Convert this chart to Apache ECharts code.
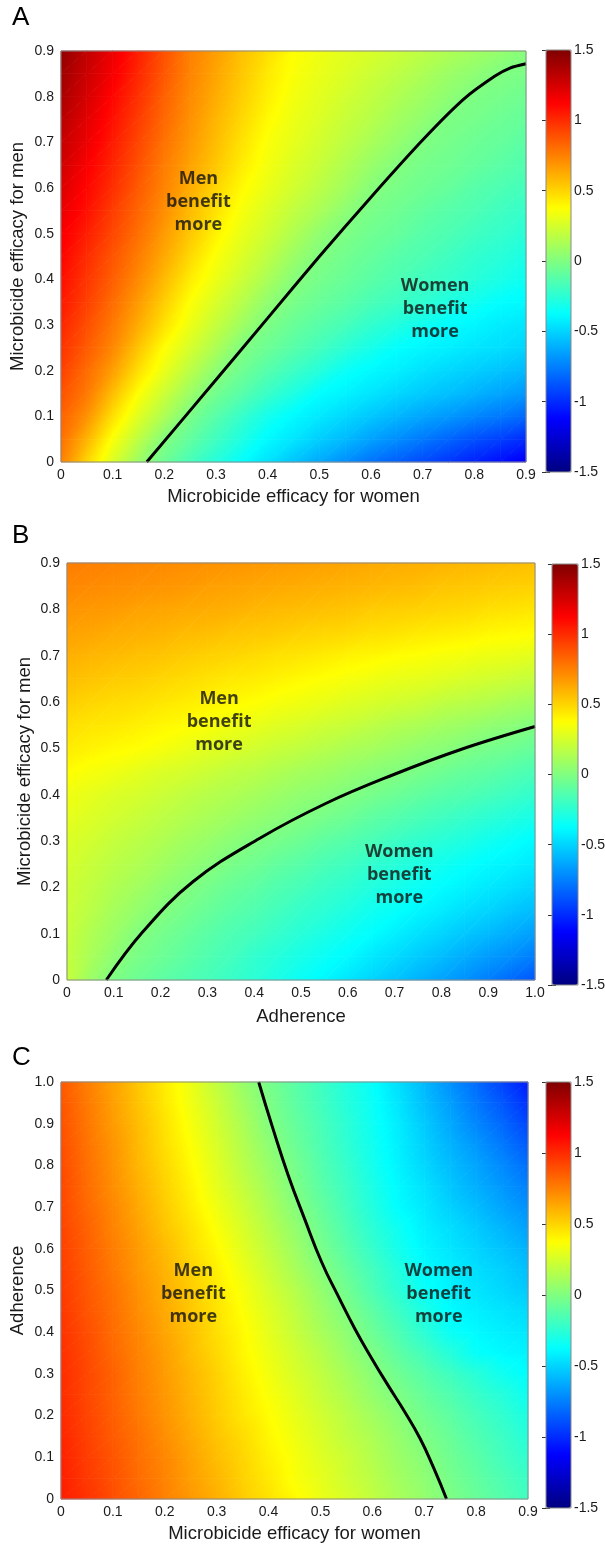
<!DOCTYPE html>
<html>
<head>
<meta charset="utf-8">
<script src="https://cdn.jsdelivr.net/npm/echarts/dist/echarts.min.js"></script>
<style>
html, body { margin: 0; padding: 0; background: #fff; }
#container { width: 605px; height: 1544px; }
</style>
</head>
<body>
<div id="container"></div>
<script>
// sample positions of the value grids (read every 0.05)
const nodes09 = [0, 0.05, 0.1, 0.15, 0.2, 0.25, 0.3, 0.35, 0.4, 0.45, 0.5, 0.55, 0.6, 0.65, 0.7, 0.75, 0.8, 0.85, 0.9];
const nodes10 = [0, 0.05, 0.1, 0.15, 0.2, 0.25, 0.3, 0.35, 0.4, 0.45, 0.5, 0.55, 0.6, 0.65, 0.7, 0.75, 0.8, 0.85, 0.9, 0.95, 1];

// panel A: rows = men efficacy 0..0.9, columns = women efficacy 0..0.9
const gridA = [
  [0.75,0.50,0.27,0.08,-0.06,-0.17,-0.27,-0.37,-0.46,-0.55,-0.63,-0.71,-0.79,-0.85,-0.91,-0.97,-1.03,-1.09,-1.15],
  [0.80,0.60,0.36,0.18,0.01,-0.09,-0.19,-0.29,-0.39,-0.45,-0.52,-0.58,-0.65,-0.71,-0.77,-0.83,-0.89,-0.94,-1.00],
  [0.84,0.70,0.47,0.28,0.13,-0.02,-0.12,-0.22,-0.32,-0.39,-0.44,-0.49,-0.54,-0.59,-0.64,-0.68,-0.73,-0.77,-0.82],
  [0.89,0.77,0.57,0.37,0.22,0.08,-0.04,-0.12,-0.21,-0.29,-0.375,-0.41,-0.45,-0.49,-0.53,-0.56,-0.60,-0.64,-0.68],
  [0.94,0.81,0.66,0.47,0.31,0.17,0.04,-0.05,-0.13,-0.20,-0.27,-0.35,-0.39,-0.42,-0.46,-0.49,-0.52,-0.55,-0.58],
  [0.98,0.86,0.73,0.55,0.375,0.25,0.13,0.00,-0.06,-0.12,-0.18,-0.25,-0.31,-0.37,-0.40,-0.42,-0.45,-0.47,-0.50],
  [1.02,0.90,0.77,0.62,0.46,0.32,0.20,0.09,-0.01,-0.07,-0.12,-0.17,-0.23,-0.28,-0.33,-0.38,-0.40,-0.43,-0.45],
  [1.06,0.94,0.81,0.67,0.52,0.37,0.26,0.16,0.05,-0.02,-0.07,-0.11,-0.16,-0.20,-0.24,-0.29,-0.33,-0.375,-0.39],
  [1.09,0.97,0.85,0.72,0.58,0.43,0.32,0.22,0.12,0.02,-0.03,-0.07,-0.11,-0.15,-0.19,-0.22,-0.26,-0.30,-0.34],
  [1.12,1.00,0.88,0.76,0.63,0.49,0.36,0.27,0.18,0.08,0.00,-0.04,-0.08,-0.12,-0.15,-0.19,-0.23,-0.26,-0.30],
  [1.15,1.04,0.92,0.80,0.67,0.54,0.41,0.31,0.23,0.14,0.05,-0.01,-0.05,-0.08,-0.12,-0.15,-0.19,-0.22,-0.26],
  [1.19,1.08,0.95,0.83,0.71,0.58,0.46,0.35,0.27,0.19,0.12,0.04,-0.02,-0.05,-0.09,-0.12,-0.15,-0.19,-0.22],
  [1.23,1.11,0.99,0.86,0.74,0.62,0.50,0.39,0.31,0.24,0.17,0.10,0.02,-0.02,-0.05,-0.08,-0.12,-0.15,-0.18],
  [1.27,1.14,1.02,0.89,0.76,0.65,0.54,0.43,0.34,0.27,0.21,0.14,0.07,0.01,-0.03,-0.05,-0.08,-0.11,-0.14],
  [1.30,1.18,1.05,0.92,0.79,0.68,0.57,0.46,0.36,0.30,0.24,0.18,0.12,0.06,0.00,-0.03,-0.06,-0.08,-0.11],
  [1.34,1.21,1.08,0.95,0.82,0.70,0.59,0.49,0.39,0.32,0.27,0.21,0.16,0.10,0.05,-0.01,-0.03,-0.06,-0.08],
  [1.38,1.25,1.11,0.98,0.84,0.72,0.62,0.52,0.42,0.34,0.29,0.24,0.19,0.14,0.09,0.04,-0.01,-0.03,-0.05],
  [1.41,1.28,1.15,1.01,0.87,0.74,0.64,0.54,0.44,0.36,0.31,0.27,0.22,0.18,0.13,0.08,0.04,0.00,-0.02],
  [1.45,1.31,1.18,1.04,0.89,0.75,0.66,0.56,0.47,0.375,0.33,0.29,0.26,0.22,0.18,0.14,0.10,0.06,0.02]
];

// panel B: rows = men efficacy 0..0.9, columns = adherence 0..1
const gridB = [
  [0.20,0.08,-0.01,-0.06,-0.10,-0.135,-0.17,-0.21,-0.25,-0.30,-0.35,-0.40,-0.45,-0.50,-0.55,-0.60,-0.65,-0.70,-0.76,-0.82,-0.88],
  [0.20,0.12,0.04,-0.02,-0.06,-0.10,-0.14,-0.18,-0.23,-0.27,-0.31,-0.35,-0.39,-0.44,-0.48,-0.53,-0.57,-0.62,-0.67,-0.71,-0.76],
  [0.21,0.14,0.08,0.01,-0.03,-0.07,-0.11,-0.15,-0.18,-0.22,-0.26,-0.30,-0.34,-0.375,-0.42,-0.46,-0.50,-0.54,-0.58,-0.62,-0.66],
  [0.22,0.17,0.11,0.06,0.01,-0.03,-0.07,-0.11,-0.14,-0.18,-0.22,-0.25,-0.29,-0.33,-0.36,-0.40,-0.43,-0.47,-0.50,-0.54,-0.57],
  [0.23,0.19,0.14,0.10,0.05,0.01,-0.03,-0.07,-0.10,-0.14,-0.17,-0.21,-0.24,-0.28,-0.31,-0.35,-0.38,-0.41,-0.44,-0.47,-0.50],
  [0.25,0.21,0.17,0.14,0.10,0.06,0.02,-0.02,-0.05,-0.09,-0.12,-0.16,-0.19,-0.23,-0.26,-0.29,-0.33,-0.36,-0.39,-0.41,-0.44],
  [0.27,0.24,0.20,0.17,0.14,0.10,0.07,0.03,0.00,-0.03,-0.06,-0.10,-0.13,-0.16,-0.20,-0.23,-0.26,-0.29,-0.33,-0.36,-0.39],
  [0.30,0.27,0.24,0.21,0.18,0.15,0.12,0.09,0.06,0.03,0.00,-0.03,-0.06,-0.10,-0.13,-0.16,-0.19,-0.22,-0.25,-0.28,-0.31],
  [0.33,0.30,0.27,0.25,0.22,0.19,0.16,0.14,0.11,0.08,0.05,0.03,0.00,-0.03,-0.06,-0.09,-0.12,-0.14,-0.17,-0.20,-0.23],
  [0.38,0.35,0.33,0.30,0.27,0.25,0.22,0.19,0.17,0.14,0.11,0.09,0.06,0.03,0.01,-0.02,-0.05,-0.08,-0.10,-0.13,-0.16],
  [0.43,0.41,0.39,0.375,0.35,0.32,0.29,0.27,0.24,0.21,0.19,0.16,0.13,0.11,0.08,0.05,0.03,0.00,-0.03,-0.05,-0.08],
  [0.47,0.45,0.44,0.42,0.40,0.38,0.36,0.33,0.31,0.28,0.26,0.23,0.21,0.18,0.15,0.13,0.10,0.08,0.05,0.03,0.00],
  [0.52,0.50,0.48,0.47,0.45,0.43,0.41,0.39,0.375,0.35,0.33,0.31,0.28,0.26,0.24,0.22,0.19,0.17,0.15,0.12,0.10],
  [0.57,0.55,0.53,0.52,0.50,0.48,0.46,0.44,0.43,0.41,0.39,0.37,0.35,0.33,0.31,0.30,0.28,0.26,0.24,0.22,0.20],
  [0.61,0.59,0.58,0.56,0.55,0.53,0.51,0.50,0.48,0.46,0.45,0.43,0.41,0.40,0.38,0.37,0.35,0.34,0.32,0.31,0.29],
  [0.65,0.64,0.62,0.61,0.60,0.58,0.57,0.55,0.54,0.53,0.51,0.50,0.49,0.47,0.46,0.44,0.43,0.42,0.40,0.39,0.38],
  [0.69,0.68,0.67,0.65,0.64,0.63,0.62,0.61,0.59,0.58,0.57,0.56,0.55,0.53,0.52,0.51,0.50,0.49,0.47,0.46,0.45],
  [0.73,0.72,0.71,0.70,0.69,0.68,0.66,0.65,0.64,0.63,0.62,0.61,0.60,0.59,0.58,0.57,0.55,0.54,0.53,0.52,0.51],
  [0.76,0.75,0.74,0.73,0.72,0.71,0.70,0.69,0.68,0.67,0.66,0.65,0.64,0.63,0.62,0.61,0.60,0.59,0.58,0.57,0.56]
];

// panel C: rows = adherence 0..1, columns = women efficacy 0..0.9
const gridC = [
  [1.05,0.98,0.90,0.83,0.75,0.68,0.61,0.53,0.46,0.39,0.32,0.26,0.19,0.12,0.06,-0.01,-0.07,-0.13,-0.19],
  [1.04,0.96,0.89,0.81,0.74,0.66,0.59,0.51,0.44,0.36,0.30,0.23,0.17,0.10,0.04,-0.03,-0.09,-0.15,-0.21],
  [1.03,0.95,0.88,0.80,0.73,0.65,0.57,0.50,0.42,0.35,0.28,0.22,0.15,0.08,0.02,-0.05,-0.11,-0.18,-0.24],
  [1.02,0.94,0.86,0.79,0.71,0.63,0.55,0.48,0.40,0.33,0.26,0.19,0.13,0.06,-0.01,-0.07,-0.14,-0.20,-0.27],
  [1.01,0.93,0.85,0.77,0.69,0.61,0.53,0.45,0.38,0.31,0.24,0.17,0.10,0.03,-0.04,-0.10,-0.17,-0.23,-0.30],
  [1.00,0.92,0.84,0.76,0.68,0.60,0.52,0.44,0.36,0.29,0.21,0.14,0.06,-0.01,-0.08,-0.14,-0.21,-0.27,-0.34],
  [1.00,0.92,0.84,0.75,0.67,0.59,0.51,0.42,0.34,0.26,0.19,0.11,0.03,-0.05,-0.12,-0.19,-0.26,-0.33,-0.38],
  [0.99,0.91,0.82,0.74,0.66,0.57,0.49,0.40,0.32,0.24,0.16,0.07,-0.01,-0.10,-0.18,-0.27,-0.36,-0.39,-0.41],
  [0.98,0.90,0.81,0.73,0.64,0.56,0.47,0.39,0.30,0.21,0.12,0.04,-0.06,-0.15,-0.25,-0.35,-0.39,-0.42,-0.44],
  [0.97,0.88,0.80,0.71,0.63,0.54,0.46,0.37,0.28,0.19,0.09,0.00,-0.10,-0.20,-0.30,-0.38,-0.42,-0.45,-0.48],
  [0.96,0.87,0.79,0.70,0.61,0.53,0.44,0.35,0.25,0.16,0.06,-0.04,-0.15,-0.25,-0.35,-0.41,-0.45,-0.49,-0.53],
  [0.95,0.86,0.77,0.68,0.60,0.51,0.42,0.32,0.22,0.12,0.02,-0.08,-0.18,-0.28,-0.38,-0.42,-0.47,-0.51,-0.56],
  [0.94,0.85,0.76,0.67,0.58,0.48,0.39,0.29,0.19,0.09,-0.02,-0.12,-0.22,-0.32,-0.40,-0.45,-0.50,-0.55,-0.60],
  [0.93,0.84,0.74,0.65,0.55,0.46,0.36,0.26,0.16,0.06,-0.05,-0.15,-0.25,-0.34,-0.42,-0.47,-0.53,-0.59,-0.65],
  [0.92,0.82,0.73,0.63,0.53,0.43,0.33,0.23,0.13,0.02,-0.08,-0.18,-0.28,-0.38,-0.44,-0.51,-0.57,-0.64,-0.70],
  [0.92,0.81,0.71,0.61,0.51,0.41,0.30,0.20,0.10,-0.01,-0.11,-0.20,-0.30,-0.39,-0.46,-0.54,-0.61,-0.68,-0.75],
  [0.91,0.80,0.70,0.59,0.49,0.39,0.28,0.17,0.07,-0.03,-0.13,-0.22,-0.32,-0.41,-0.49,-0.57,-0.64,-0.72,-0.80],
  [0.90,0.79,0.69,0.58,0.47,0.37,0.26,0.15,0.04,-0.06,-0.15,-0.24,-0.33,-0.42,-0.51,-0.60,-0.68,-0.77,-0.86],
  [0.89,0.78,0.67,0.57,0.46,0.35,0.24,0.13,0.01,-0.08,-0.16,-0.25,-0.34,-0.43,-0.53,-0.63,-0.73,-0.82,-0.92],
  [0.88,0.77,0.66,0.55,0.44,0.33,0.22,0.10,-0.01,-0.10,-0.18,-0.27,-0.35,-0.45,-0.56,-0.66,-0.77,-0.87,-0.98],
  [0.87,0.76,0.65,0.54,0.43,0.32,0.19,0.07,-0.03,-0.11,-0.19,-0.28,-0.36,-0.47,-0.58,-0.70,-0.81,-0.93,-1.05]
];

// zero contours
const contourA = [[0.166,0],[0.30,0.18],[0.40,0.315],[0.50,0.45],[0.60,0.58],[0.70,0.705],[0.78,0.795],[0.84,0.845],[0.87,0.863],[0.9,0.872]];
const contourB = [[0.084,0],[0.162,0.104],[0.269,0.212],[0.412,0.306],[0.555,0.382],[0.697,0.443],[0.84,0.497],[1.0,0.547]];
const contourC = [[0.381,1.0],[0.408,0.89],[0.438,0.776],[0.47,0.67],[0.502,0.569],[0.534,0.487],[0.566,0.409],[0.598,0.339],[0.630,0.273],[0.662,0.21],[0.692,0.145],[0.718,0.075],[0.743,0]];

// region labels
const labelsA = [{ name: 'Men\nbenefit\nmore', value: [0.266, 0.569] }, { name: 'Women\nbenefit\nmore', value: [0.724, 0.336] }];
const labelsB = [{ name: 'Men\nbenefit\nmore', value: [0.325, 0.558] }, { name: 'Women\nbenefit\nmore', value: [0.71, 0.227] }];
const labelsC = [{ name: 'Men\nbenefit\nmore', value: [0.255, 0.493] }, { name: 'Women\nbenefit\nmore', value: [0.728, 0.493] }];

const colorRange = [-1.5, 1.5];
const jet = ['#000080', '#0000ff', '#0080ff', '#00ffff', '#80ff80', '#ffff00', '#ff8000', '#ff0000', '#800000'];

let dom = document.getElementById('container');
let myChart = echarts.init(dom);

function toCells(xs, ys, rows) {
  let out = [];
  rows.forEach(function (row, j) {
    row.forEach(function (v, i) { out.push([xs[i], ys[j], v, i, j]); });
  });
  return out;
}

// same jet palette as the colour bar, through echarts' own colour lerp
function colorOf(v) {
  let t = (v - colorRange[0]) / (colorRange[1] - colorRange[0]);
  return echarts.color.lerp(Math.min(1, Math.max(0, t)), jet);
}

// one triangle of a cell, shaded smoothly between its corner values
function tri(p, q, r, vp, vq, vr) {
  let det = (q[0] - p[0]) * (r[1] - p[1]) - (r[0] - p[0]) * (q[1] - p[1]);
  let a = ((vq - vp) * (r[1] - p[1]) - (vr - vp) * (q[1] - p[1])) / det;
  let b = ((q[0] - p[0]) * (vr - vp) - (r[0] - p[0]) * (vq - vp)) / det;
  let g2 = a * a + b * b;
  let pts = [p, q, r], vals = [vp, vq, vr];
  let lo = 0;
  for (let k = 1; k < 3; k++) if (vals[k] < vals[lo]) lo = k;
  let vmin = Math.min(vp, vq, vr), vmax = Math.max(vp, vq, vr);
  let fill;
  if (vmax - vmin < 1e-6 || g2 < 1e-12) {
    fill = colorOf(vp);
  } else {
    let d = vmax - vmin, s = pts[lo];
    let e = [s[0] + a / g2 * d, s[1] + b / g2 * d];
    let stops = [{ offset: 0, color: colorOf(vmin) }];
    for (let k = 1; k < jet.length - 1; k++) {
      let w = colorRange[0] + k * (colorRange[1] - colorRange[0]) / (jet.length - 1);
      if (w > vmin && w < vmax) stops.push({ offset: (w - vmin) / d, color: colorOf(w) });
    }
    stops.push({ offset: 1, color: colorOf(vmax) });
    fill = new echarts.graphic.LinearGradient(s[0], s[1], e[0], e[1], stops, true);
  }
  return { type: 'polygon', shape: { points: pts }, style: { fill: fill, stroke: fill, lineWidth: 0.8 } };
}

function shadeRenderer(xs, ys, rows) {
  return function (params, api) {
    let i = api.value(3), j = api.value(4);
    if (i >= xs.length - 1 || j >= ys.length - 1) return;
    let p00 = api.coord([xs[i], ys[j]]), p10 = api.coord([xs[i + 1], ys[j]]);
    let p01 = api.coord([xs[i], ys[j + 1]]), p11 = api.coord([xs[i + 1], ys[j + 1]]);
    let v00 = api.value(2), v10 = rows[j][i + 1], v01 = rows[j + 1][i], v11 = rows[j + 1][i + 1];
    return { type: 'group', children: [tri(p00, p10, p11, v00, v10, v11), tri(p00, p11, p01, v00, v11, v01)] };
  };
}

const txt = '#1a1a1a';
const font = 'Liberation Sans, Arial, sans-serif';

function fmt(v) { return v === 0 ? '0' : v.toFixed(1); }

function plotAxis(gridIndex, max, name, gap, isY) {
  return {
    type: 'value', gridIndex: gridIndex, min: 0, max: max, interval: 0.1,
    name: name, nameLocation: 'middle', nameGap: gap, nameMoveOverlap: false,
    nameTextStyle: { fontSize: 18.5, color: txt, fontFamily: font },
    axisLine: { show: false }, axisTick: { show: false }, splitLine: { show: false },
    axisLabel: { fontSize: 14, color: txt, fontFamily: font, margin: isY ? 7 : 6, formatter: fmt }
  };
}

function barAxis(gridIndex, pos, labels) {
  return {
    type: 'value', gridIndex: gridIndex, position: pos,
    min: colorRange[0], max: colorRange[1], interval: 0.5,
    axisLine: { show: false }, splitLine: { show: false },
    axisTick: { show: true, inside: true, length: 4, lineStyle: { color: '#333', width: 1 } },
    axisLabel: { show: labels, fontSize: 14, color: txt, fontFamily: font, margin: 3 }
  };
}

function gridBox(l, t, w, h) {
  return { left: l, top: t, width: w, height: h, show: true, backgroundColor: 'transparent',
    borderColor: '#8a8a8a', borderWidth: 1, z: 10, containLabel: false, outerBoundsMode: 'none' };
}

function colorbar(series, l, t, w, h) {
  return { type: 'continuous', seriesIndex: series, dimension: 2, min: colorRange[0], max: colorRange[1],
    inRange: { color: jet }, calculable: false, hoverLink: false, text: null,
    left: l, top: t, itemWidth: w, itemHeight: h, padding: 0, orient: 'vertical' };
}

function regionLabels(xi, yi, data) {
  return {
    type: 'scatter', xAxisIndex: xi, yAxisIndex: yi, data: data, symbolSize: 0, silent: true, z: 6,
    label: { show: true, position: 'inside', formatter: '{b}', fontFamily: 'Open Sans', fontWeight: 'bold',
      fontSize: 18, lineHeight: 23, color: '#111', align: 'center', verticalAlign: 'middle' }
  };
}

function contour(xi, yi, pts, smooth) {
  return { type: 'line', xAxisIndex: xi, yAxisIndex: yi, data: pts, smooth: smooth,
    symbol: 'none', silent: true, lineStyle: { color: '#000', width: 3 }, z: 5 };
}

function heat(xi, yi, xs, ys, rows) {
  return { type: 'custom', xAxisIndex: xi, yAxisIndex: yi, data: toCells(xs, ys, rows),
    renderItem: shadeRenderer(xs, ys, rows), encode: { x: 0, y: 1 }, silent: true, z: 2 };
}

option = {
  animation: false,
  backgroundColor: '#fff',
  graphic: [
    { type: 'text', left: 12, top: 5, style: { text: 'A', fontSize: 26, fontFamily: font, fill: '#000' } },
    { type: 'text', left: 12, top: 523, style: { text: 'B', fontSize: 26, fontFamily: font, fill: '#000' } },
    { type: 'text', left: 12, top: 1045, style: { text: 'C', fontSize: 26, fontFamily: font, fill: '#000' } }
  ],
  grid: [
    gridBox(61, 51, 465, 411),
    gridBox(67, 563, 468, 417),
    gridBox(61, 1082, 467, 417),
    gridBox(546, 50, 25, 422),
    gridBox(552, 564, 26, 421),
    gridBox(546, 1082, 25, 426)
  ],
  xAxis: [
    plotAxis(0, 0.9, 'Microbicide efficacy for women', 25, false),
    plotAxis(1, 1, 'Adherence', 27, false),
    plotAxis(2, 0.9, 'Microbicide efficacy for women', 25, false),
    { type: 'value', gridIndex: 3, show: false, min: 0, max: 1 },
    { type: 'value', gridIndex: 4, show: false, min: 0, max: 1 },
    { type: 'value', gridIndex: 5, show: false, min: 0, max: 1 }
  ],
  yAxis: [
    plotAxis(0, 0.9, 'Microbicide efficacy for men', 34, true),
    plotAxis(1, 0.9, 'Microbicide efficacy for men', 33, true),
    plotAxis(2, 1, 'Adherence', 34, true),
    barAxis(3, 'right', true),
    barAxis(4, 'right', true),
    barAxis(5, 'right', true),
    barAxis(3, 'left', false),
    barAxis(4, 'left', false),
    barAxis(5, 'left', false)
  ],
  visualMap: [
    colorbar(0, 546, 50, 25, 422),
    colorbar(1, 552, 564, 26, 421),
    colorbar(2, 546, 1082, 25, 426)
  ],
  series: [
    heat(0, 0, nodes09, nodes09, gridA),
    heat(1, 1, nodes10, nodes09, gridB),
    heat(2, 2, nodes09, nodes10, gridC),
    contour(0, 0, contourA, 0.25),
    contour(1, 1, contourB, 0.4),
    contour(2, 2, contourC, 0.5),
    regionLabels(0, 0, labelsA),
    regionLabels(1, 1, labelsB),
    regionLabels(2, 2, labelsC)
  ]
};
if (option && typeof option === 'object') {
  myChart.setOption(option, true);
}
</script>
</body>
</html>
